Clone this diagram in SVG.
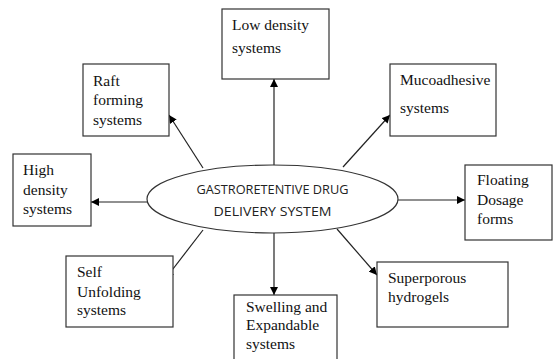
<svg xmlns="http://www.w3.org/2000/svg" width="560" height="359" viewBox="0 0 560 359">
<style>
.box{fill:#fff;stroke:#333;stroke-width:1.2}
.t{font-family:"Liberation Serif","Times New Roman",serif;font-size:15.5px;fill:#111}
.c{font-family:"Open Sans","Liberation Sans",sans-serif;font-size:13px;fill:#222;text-anchor:middle}
.ln{stroke:#222;stroke-width:1.2;fill:none;marker-end:url(#ah)}
</style>
<defs>
<marker id="ah" viewBox="0 0 10 10" refX="10" refY="5" markerWidth="8" markerHeight="8" markerUnits="userSpaceOnUse" orient="auto">
<path d="M0,0 L10,5 L0,10 z" fill="#000"/>
</marker>
</defs>
<rect width="560" height="359" fill="#fff"/>
<g id="connectors">
<line class="ln" x1="274" y1="165" x2="274" y2="79"/>
<line class="ln" x1="203" y1="168" x2="169" y2="115"/>
<line class="ln" x1="343" y1="167" x2="390" y2="115"/>
<line class="ln" x1="147" y1="202" x2="91" y2="202"/>
<line class="ln" x1="398" y1="200" x2="465" y2="200"/>
<line class="ln" x1="203" y1="230" x2="166" y2="278"/>
<line class="ln" x1="274" y1="233" x2="274" y2="295"/>
<line class="ln" x1="337" y1="229" x2="377" y2="275"/>
</g>
<g id="center">
<ellipse cx="272.5" cy="199" rx="125.5" ry="34" fill="#fff" stroke="#333" stroke-width="1.2"/>
<text class="c" x="272.5" y="194" textLength="152" lengthAdjust="spacingAndGlyphs">GASTRORETENTIVE DRUG</text>
<text class="c" x="272.5" y="216" textLength="118" lengthAdjust="spacingAndGlyphs">DELIVERY SYSTEM</text>
</g>
<g id="low-density">
<rect class="box" x="222" y="9" width="107" height="70"/>
<text class="t" x="232" y="30">Low density</text>
<text class="t" x="232" y="53">systems</text>
</g>
<g id="raft">
<rect class="box" x="83" y="64" width="86" height="72"/>
<text class="t" x="93" y="86">Raft</text>
<text class="t" x="93" y="105">forming</text>
<text class="t" x="93" y="125">systems</text>
</g>
<g id="mucoadhesive">
<rect class="box" x="390" y="64" width="106" height="72"/>
<text class="t" x="400" y="85">Mucoadhesive</text>
<text class="t" x="400" y="113">systems</text>
</g>
<g id="high-density">
<rect class="box" x="13" y="154" width="78" height="72"/>
<text class="t" x="23" y="175">High</text>
<text class="t" x="23" y="195">density</text>
<text class="t" x="23" y="214">systems</text>
</g>
<g id="floating">
<rect class="box" x="465" y="165" width="87" height="75"/>
<text class="t" x="477" y="185">Floating</text>
<text class="t" x="477" y="205">Dosage</text>
<text class="t" x="477" y="224">forms</text>
</g>
<g id="self-unfolding">
<rect class="box" x="66" y="256" width="107" height="71"/>
<text class="t" x="77" y="277">Self</text>
<text class="t" x="77" y="297">Unfolding</text>
<text class="t" x="77" y="315">systems</text>
</g>
<g id="swelling">
<rect class="box" x="234" y="295" width="103" height="70"/>
<text class="t" x="246" y="312">Swelling and</text>
<text class="t" x="246" y="330">Expandable</text>
<text class="t" x="246" y="349">systems</text>
</g>
<g id="superporous">
<rect class="box" x="377" y="262" width="131" height="65"/>
<text class="t" x="388" y="283">Superporous</text>
<text class="t" x="388" y="302">hydrogels</text>
</g>
</svg>
